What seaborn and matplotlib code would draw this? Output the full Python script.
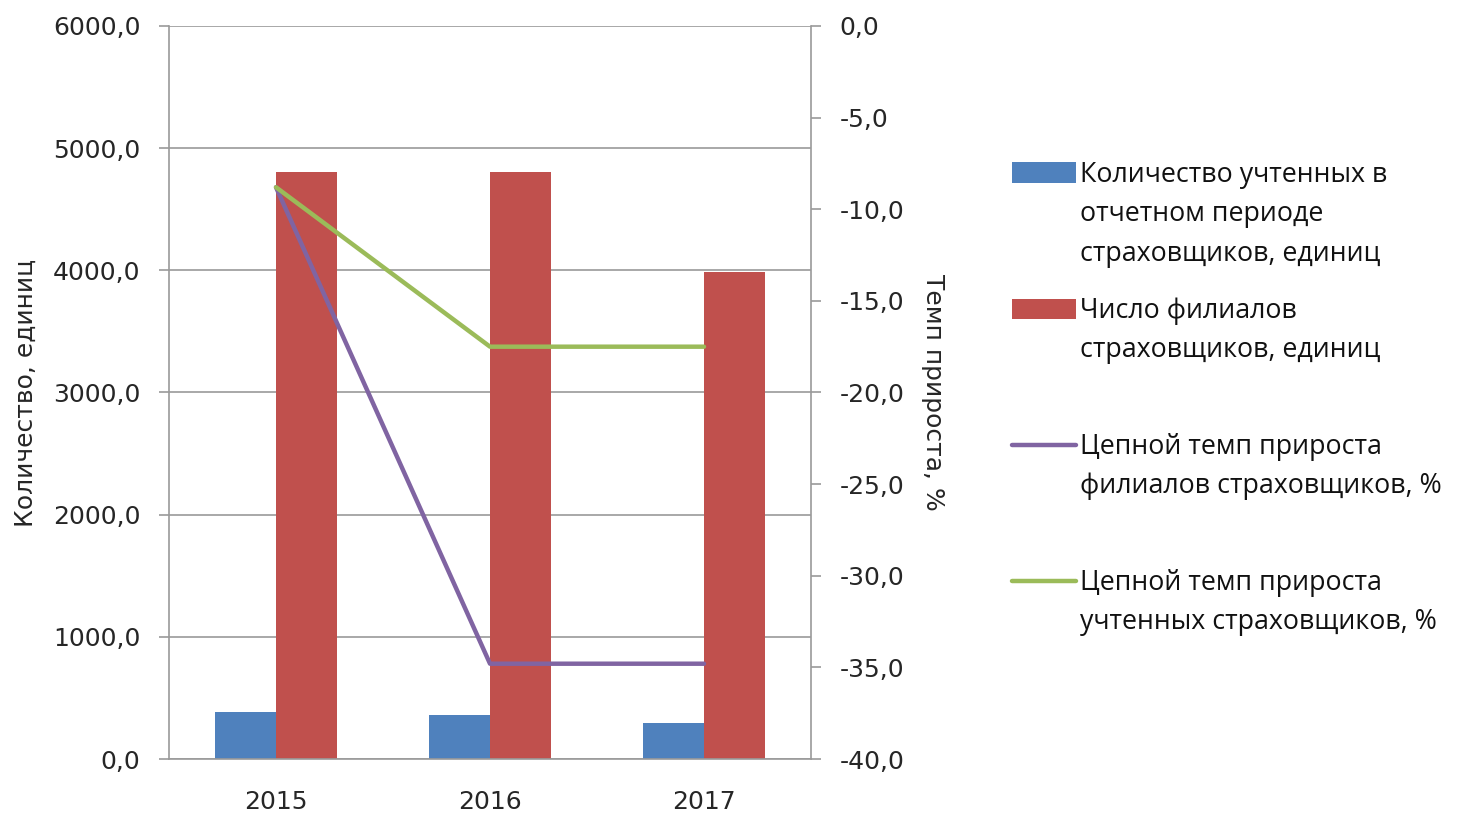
# Количество страховщиков и филиалов, темпы прироста (2015-2017)
import numpy as np
import pandas as pd
import matplotlib
matplotlib.use("Agg")
import matplotlib.pyplot as plt
from matplotlib.ticker import FuncFormatter, MultipleLocator
from matplotlib.patches import Patch
from matplotlib.lines import Line2D
import seaborn as sns

# данные
years = ["2015", "2016", "2017"]
insurers = [387, 360, 297]          # учтенные страховщики, единиц
branches = [4802, 4802, 3986]       # филиалы страховщиков, единиц
growth_branches = [-8.8, -34.8, -34.8]   # цепной темп прироста филиалов, %
growth_insurers = [-8.8, -17.5, -17.5]   # цепной темп прироста учтенных, %

bar_labels = ["Количество учтенных в\nотчетном периоде\nстраховщиков, единиц",
              "Число филиалов\nстраховщиков, единиц"]
line_labels = ["Цепной темп прироста\nфилиалов страховщиков, %",
               "Цепной темп прироста\nучтенных страховщиков, %"]

BLUE, RED, PURPLE, GREEN = "#4F81BD", "#C0504D", "#8064A2", "#9BBB59"
GRID = "#9A9A9A"

df = pd.DataFrame({
    "year": years * 2,
    "value": insurers + branches,
    "series": [bar_labels[0]] * 3 + [bar_labels[1]] * 3,
})

sns.set_style("white")
plt.rcParams["font.family"] = ["DejaVu Sans"]

fig = plt.figure(figsize=(14.71, 8.15), dpi=100)
ax = fig.add_axes([169 / 1471, 1 - 759 / 815, (811 - 169) / 1471, (759 - 26) / 815])

sns.barplot(data=df, x="year", y="value", hue="series", order=years,
            palette=[BLUE, RED], saturation=1, width=0.57, ax=ax, legend=False)
for p in ax.patches:
    p.set_linewidth(0)

ax.set_xlim(-0.5, 2.5)
ax.set_ylim(0, 6000)
ax.yaxis.set_major_locator(MultipleLocator(1000))
ax.yaxis.set_major_formatter(FuncFormatter(lambda v, _: f"{v:.1f}".replace(".", ",")))
ax.set_axisbelow(True)
ax.yaxis.grid(True, color=GRID, lw=1.2)
ax.set_xlabel("")
ax.set_ylabel("Количество, единиц", fontsize=18, labelpad=11)

ax.set_xticks(range(len(years)))
ax.set_xticklabels(years)
ax.set_xticks(np.arange(-0.5, len(years), 1), minor=True)
ax.tick_params(axis="x", which="major", length=0, pad=22, labelsize=18)
ax.tick_params(axis="x", which="minor", length=8, width=1.2, color=GRID, direction="out")
ax.tick_params(axis="y", length=7, width=1.2, color=GRID, direction="out", pad=13.5, labelsize=18, left=True)

for s in ["left", "bottom", "right"]:
    ax.spines[s].set_color(GRID)
    ax.spines[s].set_linewidth(1.2)
ax.spines["top"].set_visible(False)

# правая ось - темпы прироста
ax2 = ax.twinx()
xpos = np.arange(len(years))
sns.lineplot(x=xpos, y=growth_branches, color=PURPLE, lw=3.2, ax=ax2)
sns.lineplot(x=xpos, y=growth_insurers, color=GREEN, lw=3.2, ax=ax2)
ax2.set_xlim(-0.5, 2.5)
ax2.set_ylim(-40, 0)
ax2.yaxis.set_major_locator(MultipleLocator(5))
ax2.yaxis.set_major_formatter(FuncFormatter(lambda v, _: f"{v:.1f}".replace(".", ",")))
ax2.tick_params(axis="y", length=7, width=1.2, color=GRID, direction="out", pad=13.5, labelsize=18, right=True)
ax2.set_ylabel("Темп прироста, %", fontsize=18, rotation=-90, va="bottom", labelpad=12)
for s in ax2.spines.values():
    s.set_visible(False)

# легенда: маркеры отдельно, подписи текстом
handles = [Patch(facecolor=BLUE, edgecolor="none"),
           Patch(facecolor=RED, edgecolor="none"),
           Line2D([], [], color=PURPLE, lw=3.2, solid_capstyle="round"),
           Line2D([], [], color=GREEN, lw=3.2, solid_capstyle="round")]
fig.legend(handles, [""] * 4, loc="upper left", bbox_to_anchor=(1012 / 1471, 1 - 160.5 / 815),
           frameon=False, fontsize=20.6, handlelength=2.23, handleheight=0.7,
           handletextpad=0, borderpad=0, borderaxespad=0, labelspacing=3.78)

texts = bar_labels + line_labels
for i, t in enumerate(texts):
    fig.text(1080 / 1471, 1 - (161 + 136 * i) / 815, t, family="Open Sans", fontsize=19.3,
             va="top", ha="left", linespacing=1.54, color="#111111")

fig.savefig("out.png", dpi=100)
